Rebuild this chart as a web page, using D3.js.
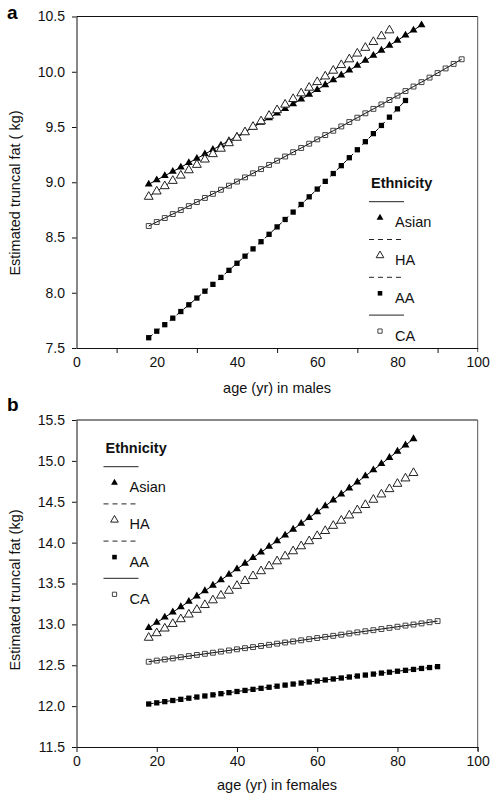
<!DOCTYPE html>
<html><head><meta charset="utf-8">
<script src="https://cdn.jsdelivr.net/npm/d3@7"></script>
<style>body{margin:0;background:#fff}svg{display:block}</style>
</head><body><svg id="c" width="494" height="799"></svg>
<script>
// ---- data ----
const ages = [18,20,22,24,26,28,30,32,34,36,38,40,42,44,46,48,50,52,54,56,58,60,62,64,66,68,70,72,74,76,78,80,82,84,86,88,90,92,94,96];
const ethnicities = ["Asian","HA","AA","CA"];

// males (panel a)
const maleAsian = [8.982,9.020,9.059,9.097,9.136,9.176,9.215,9.255,9.295,9.335,9.375,9.416,9.457,9.498,9.540,9.582,9.624,9.666,9.708,9.751,9.794,9.837,9.881,9.925,9.969,10.013,10.057,10.102,10.147,10.193,10.238,10.284,10.330,10.376,10.423];
const maleHA = [8.869,8.917,8.965,9.013,9.061,9.109,9.158,9.206,9.255,9.304,9.354,9.403,9.453,9.502,9.552,9.602,9.653,9.703,9.754,9.805,9.856,9.907,9.958,10.010,10.061,10.113,10.165,10.217,10.270,10.322,10.375];
const maleAA = [7.593,7.652,7.711,7.770,7.830,7.891,7.952,8.014,8.076,8.139,8.203,8.267,8.331,8.397,8.462,8.529,8.596,8.663,8.730,8.799,8.868,8.938,9.008,9.079,9.150,9.222,9.294,9.367,9.440,9.514,9.589,9.664,9.740];
const maleCA = [8.604,8.640,8.676,8.712,8.748,8.784,8.821,8.858,8.895,8.932,8.969,9.006,9.044,9.081,9.119,9.157,9.195,9.233,9.272,9.310,9.349,9.388,9.427,9.466,9.505,9.545,9.584,9.624,9.664,9.704,9.744,9.784,9.825,9.866,9.906,9.947,9.988,10.030,10.071,10.113];

// females (panel b)
const femaleAsian = [12.959,13.022,13.086,13.150,13.214,13.279,13.345,13.410,13.477,13.543,13.610,13.678,13.746,13.814,13.883,13.952,14.021,14.091,14.162,14.233,14.304,14.376,14.448,14.520,14.593,14.667,14.740,14.815,14.889,14.964,15.040,15.116,15.192,15.269];
const femaleHA = [12.837,12.893,12.950,13.006,13.064,13.121,13.179,13.237,13.295,13.353,13.412,13.472,13.531,13.591,13.651,13.712,13.772,13.833,13.895,13.956,14.018,14.081,14.143,14.206,14.269,14.333,14.397,14.461,14.525,14.590,14.655,14.720,14.786,14.852];
const femaleAA = [12.026,12.040,12.055,12.069,12.083,12.097,12.111,12.124,12.138,12.152,12.165,12.179,12.192,12.205,12.218,12.231,12.244,12.257,12.270,12.282,12.295,12.307,12.320,12.332,12.344,12.356,12.368,12.380,12.392,12.404,12.415,12.427,12.438,12.449,12.461,12.472,12.483];
const femaleCA = [12.543,12.557,12.571,12.584,12.598,12.612,12.626,12.640,12.653,12.667,12.681,12.695,12.709,12.722,12.736,12.750,12.764,12.778,12.791,12.805,12.819,12.833,12.847,12.860,12.874,12.888,12.902,12.916,12.929,12.943,12.957,12.971,12.985,12.998,13.012,13.026,13.040];

const xTickLabels = [0,20,40,60,80,100];
const xMinorTicksA = [10,30,50,70,90];
const yTicksA = [7.5,8.0,8.5,9.0,9.5,10.0,10.5];
const yTicksB = [11.5,12.0,12.5,13.0,13.5,14.0,14.5,15.0,15.5];

// ---- drawing ----
const FONT = "'Liberation Sans', Arial, Helvetica, sans-serif";
const svg = d3.select("#c");

const styles = {
  Asian: {dash: null, sym: d3.symbolTriangle, size: 27, fill: "#000", stroke: "none"},
  HA:    {dash: "5,4", sym: d3.symbolTriangle, size: 34, fill: "#fff", stroke: "#222"},
  AA:    {dash: "5,4", sym: d3.symbolSquare, size: 28, fill: "#000", stroke: "none"},
  CA:    {dash: null, sym: d3.symbolSquare, size: 24, fill: "none", stroke: "#444"}
};

function panel(cfg) {
  const x = d3.scaleLinear().domain([0,100]).range([cfg.left, cfg.right]);
  const y = d3.scaleLinear().domain(cfg.yDomain).range([cfg.bottom, cfg.top]);
  const g = svg.append("g");

  // frame top / right
  g.append("line").attr("x1", cfg.left).attr("x2", cfg.right).attr("y1", cfg.top).attr("y2", cfg.top)
    .attr("stroke", "#111").attr("stroke-width", 1);
  g.append("line").attr("x1", cfg.right).attr("x2", cfg.right).attr("y1", cfg.top).attr("y2", cfg.bottom + 4)
    .attr("stroke", "#555").attr("stroke-width", 1);

  // y axis
  g.append("g").attr("transform", `translate(${cfg.left},0)`)
    .call(d3.axisLeft(y).tickValues(cfg.yTicks).tickFormat(d3.format(".1f")).tickSize(4.5).tickPadding(7).tickSizeOuter(0));
  // x axis
  g.append("g").attr("transform", `translate(0,${cfg.bottom})`)
    .call(d3.axisBottom(x).tickValues(xTickLabels).tickFormat(d3.format("d"))
      .tickSize(cfg.labelTicks ? 5 : 0).tickPadding(cfg.labelTicks ? 4 : 9).tickSizeOuter(0));
  if (cfg.minorTicks) {
    g.append("g").attr("transform", `translate(0,${cfg.bottom})`)
      .call(d3.axisBottom(x).tickValues(cfg.minorTicks).tickFormat("").tickSize(5).tickSizeOuter(0))
      .select(".domain").remove();
  }
  g.selectAll(".tick text").attr("font-family", FONT).attr("font-size", 14).attr("fill", "#111");
  g.selectAll(".domain, .tick line").attr("stroke", "#111");

  // axis titles
  g.append("text").attr("x", (cfg.left + cfg.right) / 2).attr("y", cfg.xTitleY)
    .attr("text-anchor", "middle").attr("font-family", FONT).attr("font-size", 14.5).attr("fill", "#111")
    .text(cfg.xTitle);
  g.append("text").attr("transform", `translate(${20},${cfg.yTitleY}) rotate(-90)`)
    .attr("text-anchor", "middle").attr("font-family", FONT).attr("font-size", 14.5).attr("fill", "#111")
    .text(cfg.yTitle);
  // panel letter
  g.append("text").attr("x", 7).attr("y", cfg.letterY).attr("font-family", FONT).attr("font-weight", "bold")
    .attr("font-size", 19).attr("fill", "#000").text(cfg.letter);

  // series
  const line = d3.line().x(d => x(d[0])).y(d => y(d[1]));
  cfg.series.forEach(s => {
    const st = styles[s.name];
    const pts = s.values.map((v, i) => [ages[i], v]);
    g.append("path").datum(pts).attr("d", line).attr("fill", "none")
      .attr("stroke", "#000").attr("stroke-width", 1)
      .attr("stroke-dasharray", st.dash);
    g.append("g").selectAll("path").data(pts).join("path")
      .attr("transform", d => `translate(${x(d[0])},${y(d[1])})`)
      .attr("d", d3.symbol().type(st.sym).size(st.size)())
      .attr("fill", st.fill).attr("stroke", st.stroke).attr("stroke-width", 1);
  });

  // legend
  const L = cfg.legend;
  g.append("text").attr("x", L.x).attr("y", L.titleY).attr("font-family", FONT).attr("font-weight", "bold")
    .attr("font-size", 14.5).attr("fill", "#111").text("Ethnicity");
  ethnicities.forEach((name, i) => {
    const st = styles[name];
    const base = L.firstLineY + i * L.step;
    g.append("line").attr("x1", L.x - 2).attr("x2", L.x + 33).attr("y1", base).attr("y2", base)
      .attr("stroke", "#222").attr("stroke-width", 1).attr("stroke-dasharray", st.dash ? "5,4" : null);
    g.append("path").attr("transform", `translate(${L.x + 9},${base + 16})`)
      .attr("d", d3.symbol().type(st.sym).size(st.size * 0.75)())
      .attr("fill", st.fill).attr("stroke", st.stroke).attr("stroke-width", 1);
    g.append("text").attr("x", L.x + 24).attr("y", base + 25.5).attr("font-family", FONT)
      .attr("font-size", 14.5).attr("fill", "#111").text(name);
  });
}

panel({
  left: 76.5, right: 477.7, top: 16.5, bottom: 348, yDomain: [7.5, 10.5], yTicks: yTicksA,
  minorTicks: xMinorTicksA, labelTicks: false,
  xTitle: "age (yr) in males", xTitleY: 393, yTitle: "Estimated truncal fat ( kg)", yTitleY: 193,
  letter: "a", letterY: 19,
  series: [
    {name: "Asian", values: maleAsian},
    {name: "HA", values: maleHA},
    {name: "AA", values: maleAA},
    {name: "CA", values: maleCA}
  ],
  legend: {x: 371, titleY: 188, firstLineY: 201.7, step: 37.8}
});

panel({
  left: 76.5, right: 477.7, top: 420, bottom: 747, yDomain: [11.5, 15.5], yTicks: yTicksB,
  minorTicks: null, labelTicks: true,
  xTitle: "age (yr) in females", xTitleY: 790, yTitle: "Estimated truncal fat (kg)", yTitleY: 590,
  letter: "b", letterY: 411,
  series: [
    {name: "Asian", values: femaleAsian},
    {name: "HA", values: femaleHA},
    {name: "AA", values: femaleAA},
    {name: "CA", values: femaleCA}
  ],
  legend: {x: 105.5, titleY: 453, firstLineY: 466.7, step: 37.2}
});
</script>
</body></html>
